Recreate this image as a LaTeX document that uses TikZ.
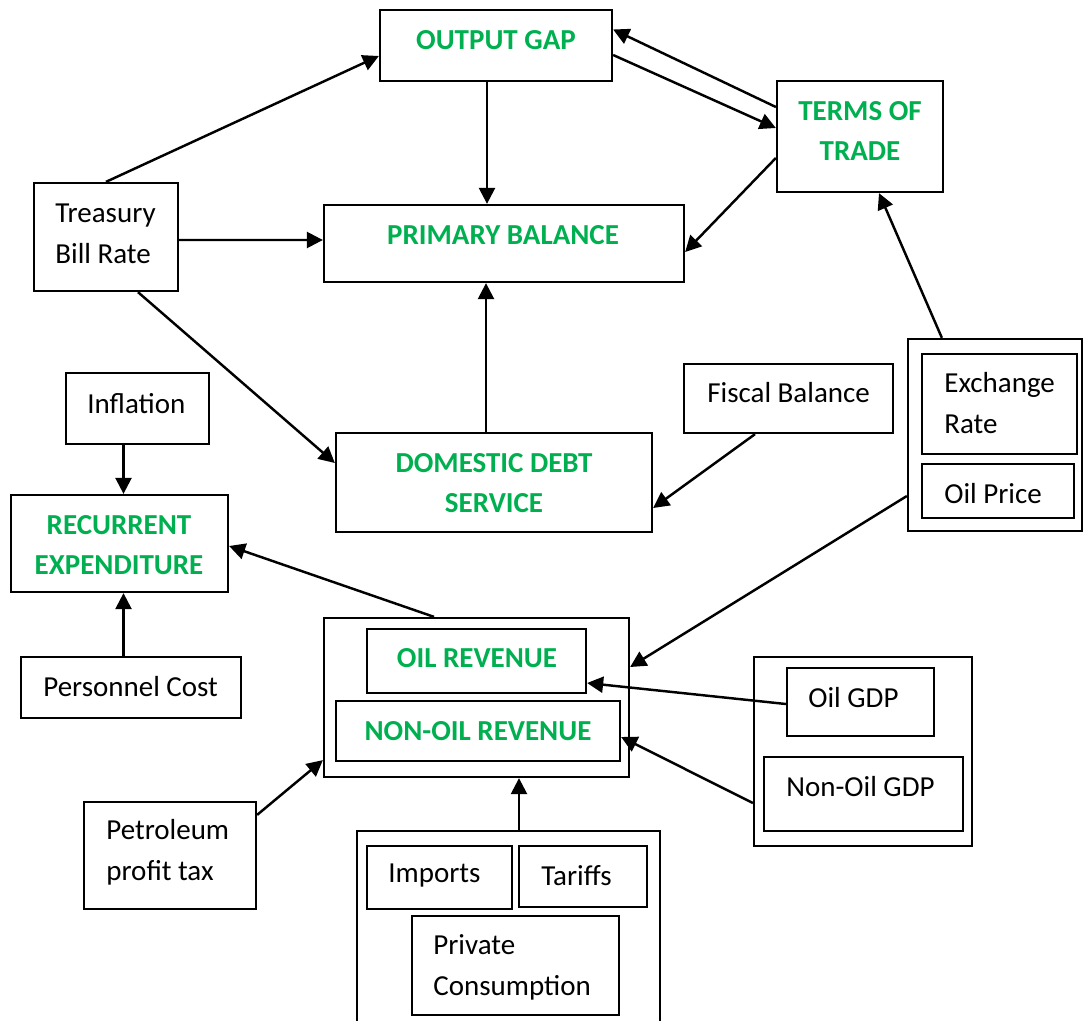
\documentclass[tikz,border=0pt]{standalone}
\usepackage{fontspec}
\setmainfont{Carlito}
\usetikzlibrary{arrows.meta, positioning, calc, fit}
\definecolor{keygreen}{RGB}{0,176,80}

\begin{document}
\begin{tikzpicture}[x=0.02cm, y=-0.02cm]
    \tikzstyle{box} = [draw=black, line width=1.3pt, inner sep=0pt]
    \tikzstyle{key} = [inner sep=0pt, align=center, text=keygreen, font=\fontsize{16.5}{23.2}\selectfont\bfseries]
    \tikzstyle{plain} = [inner sep=0pt, align=left, anchor=west, font=\fontsize{16.5}{23.2}\selectfont]
    \tikzstyle{arrow} = [line width=1.4pt, -{Triangle[length=0.32cm, width=0.32cm]}]

    \path[use as bounding box] (0,0) rectangle (1084,1020);
    \clip (0,0) rectangle (1084,1020);

    % boxes
    \node (og) [box, fit={(380,10) (612,81)}] {};
    \node (pb) [box, fit={(324,205) (684,282)}] {};
    \node (tot) [box, fit={(777,81) (943,192)}] {};
    \node (tbr) [box, fit={(34,183) (178,291)}] {};
    \node (infl) [box, fit={(66,373) (209,444)}] {};
    \node (rexp) [box, fit={(11,495) (228,592)}] {};
    \node (dds) [box, fit={(336,433) (652,532)}] {};
    \node (fisc) [box, fit={(684,364) (893,433)}] {};
    \node (exo) [box, fit={(908,339) (1082,531)}] {};
    \node (exr) [box, fit={(922,354) (1077,454)}] {};
    \node (oilp) [box, fit={(922,464) (1074,518)}] {};
    \node (pers) [box, fit={(21,657) (241,718)}] {};
    \node (rev) [box, fit={(324,618) (629,777)}] {};
    \node (oilrev) [box, fit={(367,629) (586,693)}] {};
    \node (nonoil) [box, fit={(336,701) (620,761)}] {};
    \node (petro) [box, fit={(84,802) (256,909)}] {};
    \node (gdp) [box, fit={(754,657) (972,846)}] {};
    \node (oilgdp) [box, fit={(787,668) (934,736)}] {};
    \node (nonoilgdp) [box, fit={(764,757) (963,831)}] {};
    \node (cons) [box, fit={(357,831) (660,1040)}] {};
    \node (imp) [box, fit={(367,846) (512,909)}] {};
    \node (tar) [box, fit={(519,846) (647,907)}] {};
    \node (priv) [box, fit={(412,916) (619,1015)}] {};

    % texts
    \node (ogtxt) [key] at (496,40) {OUTPUT GAP};
    \node (pbtxt) [key] at (503,235) {PRIMARY BALANCE};
    \node (tottxt) [key] at (860,131) {TERMS OF\\TRADE};
    \node (ddstxt) [key] at (494,483) {DOMESTIC DEBT\\SERVICE};
    \node (rexptxt) [key] at (119,545) {RECURRENT\\EXPENDITURE};
    \node (oilrevtxt) [key] at (477,658) {OIL REVENUE};
    \node (nonoiltxt) [key] at (478,731) {NON-OIL REVENUE};
    \node (tbrtxt) [plain] at (55,234) {Treasury\\Bill Rate};
    \node (infltxt) [plain] at (87,404) {Inflation};
    \node (fisctxt) [plain] at (707,393) {Fiscal Balance};
    \node (exrtxt) [plain] at (944,403) {Exchange\\Rate};
    \node (oilptxt) [plain] at (944,494) {Oil Price};
    \node (perstxt) [plain] at (43,687) {Personnel Cost};
    \node (petrotxt) [plain] at (106,852) {Petroleum\\profit tax};
    \node (oilgdptxt) [plain] at (808,698) {Oil GDP};
    \node (nonoilgdptxt) [plain] at (786,787) {Non-Oil GDP};
    \node (imptxt) [plain] at (388,876) {Imports};
    \node (tartxt) [plain] at (541,876) {Tariffs};
    \node (privtxt) [plain] at (433,967) {Private\\Consumption};

    % connector ends
    \coordinate (ogpb) at ($(og.south)+(-9,0)$);
    \coordinate (ddspb) at ($(dds.north)+(-8,0)$);
    \coordinate (inflre) at (123.5,444);
    \coordinate (persre) at (123.5,657);
    \coordinate (consrev) at ($(cons.north)+(10.5,0)$);

    % connectors
    \draw [arrow] (tbr.north) -- ($(og.west)+(0,10.5)$);
    \draw [arrow] (ogpb) -- (ogpb |- pb.north);
    \draw [arrow] ($(tbr.east)+(0,3)$) -- ($(pb.west)+(0,-3.5)$);
    \draw [arrow] ($(tot.west)+(0,-29.5)$) -- ($(og.east)+(0,-16)$);
    \draw [arrow] ($(og.east)+(0,9.5)$) -- ($(tot.west)+(0,-8.5)$);
    \draw [arrow] ($(tot.west)+(0,21.5)$) -- ($(pb.east)+(0,8.5)$);
    \draw [arrow] ($(exo.north west)+(35,0)$) -- ($(tot.south)+(19,0)$);
    \draw [arrow] ($(tbr.south)+(32,0)$) -- ($(dds.west)+(0,-19.5)$);
    \draw [arrow] (ddspb) -- (ddspb |- pb.south);
    \draw [arrow] ($(fisc.south)+(-33.5,0)$) -- ($(dds.east)+(0,25.5)$);
    \draw [arrow] (inflre) -- (inflre |- rexp.north);
    \draw [arrow] ($(rev.north)+(-42.5,0)$) -- ($(rexp.east)+(0,2.5)$);
    \draw [arrow] (persre) -- (persre |- rexp.south);
    \draw [arrow] ($(exo.west)+(0,61)$) -- ($(rev.east)+(0,-30.5)$);
    \draw [arrow] ($(oilgdp.west)+(0,2)$) -- ($(oilrev.east)+(0,22)$);
    \draw [arrow] ($(gdp.west)+(0,51.5)$) -- ($(nonoil.east)+(0,6)$);
    \draw [arrow] ($(petro.north east)+(0,14)$) -- ($(rev.south west)+(0,-18)$);
    \draw [arrow] (consrev) -- (consrev |- rev.south);
\end{tikzpicture}
\end{document}
